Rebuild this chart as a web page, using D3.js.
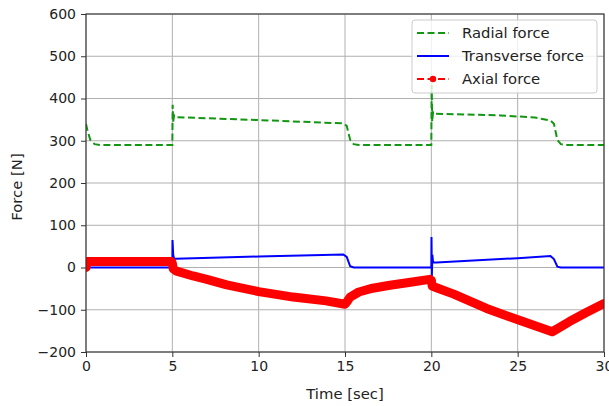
<!DOCTYPE html>
<html>
<head>
<meta charset="utf-8">
<script src="https://cdn.jsdelivr.net/npm/d3@7"></script>
<style>
  html, body { margin: 0; padding: 0; background: #fff; }
  svg { display: block; font-family: "DejaVu Sans", sans-serif; }
</style>
</head>
<body>
<svg id="chart" width="609" height="406"></svg>
<script>
// ---- data ----
const xTicks = [0, 5, 10, 15, 20, 25, 30];
const yTicks = [-200, -100, 0, 100, 200, 300, 400, 500, 600];

const radialT = [0, 0.1, 0.25, 0.5, 0.8, 4.97, 5.0, 5.02, 5.05, 5.1, 5.2, 10, 14.9, 15.1, 15.3, 15.5, 15.8, 19.97, 20.0, 20.02, 20.05, 20.1, 20.2, 24, 26.0, 26.9, 27.1, 27.3, 27.5, 27.8, 30];
const radialV = [340, 322, 302, 292, 290, 290, 290, 385, 345, 360, 356, 349, 341, 335, 302, 292, 290, 290, 290, 432, 345, 368, 364, 360, 355, 348, 340, 302, 292, 290, 290];

const transT = [0, 4.98, 5.0, 5.01, 5.05, 5.1, 5.2, 10, 14.9, 15.1, 15.3, 15.5, 19.98, 20.0, 20.01, 20.03, 20.06, 20.1, 20.3, 25, 26.9, 27.1, 27.3, 27.5, 30];
const transV = [0, 0, 0, 65, 30, 20, 21, 26, 31, 25, 3, 0, 0, 0, 72, -20, 30, 12, 12, 22, 27, 20, 2, 0, 0];

const axialT = [0, 0.05, 4.95, 5.0, 5.05, 5.2, 6.2, 7, 8.15, 10, 12, 13.9, 15, 15.1, 15.3, 15.8, 16.6, 17.6, 18.6, 19.9, 20.0, 20.05, 20.3, 21.3, 23.2, 25.1, 27.0, 27.3, 28.0, 29.0, 30];
const axialV = [0, 14, 14, 10, -3, -8, -20, -28, -41, -57, -70, -79, -87, -82, -70, -58, -49, -42, -36, -28, -30, -44, -48, -63, -97, -125, -152, -145, -128, -106, -85];

const seriesNames = ["Radial force", "Transverse force", "Axial force"];

// ---- layout ----
const svg = d3.select("#chart");
const L = 86, R = 604, T = 14, B = 352;
const x = d3.scaleLinear().domain([0, 30]).range([L, R]);
const y = d3.scaleLinear().domain([-200, 600]).range([B, T]);
const textColor = "#222";
const fsTick = "14px";
const fs = "14.8px";

// grid
const grid = svg.append("g");
grid.selectAll("line.v").data(xTicks).join("line")
  .attr("x1", d => x(d)).attr("x2", d => x(d)).attr("y1", T).attr("y2", B)
  .attr("stroke", "#b0b0b0").attr("stroke-width", 1);
grid.selectAll("line.h").data(yTicks).join("line")
  .attr("y1", d => y(d)).attr("y2", d => y(d)).attr("x1", L).attr("x2", R)
  .attr("stroke", "#b0b0b0").attr("stroke-width", 1);

// clip
svg.append("defs").append("clipPath").attr("id", "clip")
  .append("rect").attr("x", L).attr("y", T).attr("width", R - L).attr("height", B - T);

const plot = svg.append("g").attr("clip-path", "url(#clip)");
const line = d3.line().x(d => x(d[0])).y(d => y(d[1]));
const zip = (a, b) => a.map((t, i) => [t, b[i]]);

plot.append("path").datum(zip(radialT, radialV)).attr("d", line)
  .attr("fill", "none").attr("stroke", "#139613").attr("stroke-width", 2)
  .attr("stroke-dasharray", "7,3.5");

plot.append("path").datum(zip(transT, transV)).attr("d", line)
  .attr("fill", "none").attr("stroke", "#0000ff").attr("stroke-width", 2);

// axial: dense markers form a thick band
plot.append("path").datum(zip(axialT, axialV)).attr("d", line)
  .attr("fill", "none").attr("stroke", "#ff0000").attr("stroke-width", 9)
  .attr("stroke-linejoin", "round").attr("stroke-linecap", "round");

// axes
const xAxis = svg.append("g").attr("transform", `translate(0,${B})`)
  .call(d3.axisBottom(x).tickValues(xTicks).tickSize(5).tickPadding(4).tickFormat(d3.format("d")));
const yAxis = svg.append("g").attr("transform", `translate(${L},0)`)
  .call(d3.axisLeft(y).tickValues(yTicks).tickSize(5).tickPadding(5).tickFormat(d3.format("d")));
[xAxis, yAxis].forEach(g => {
  g.selectAll("text").attr("font-size", fsTick).attr("fill", textColor).attr("font-family", "DejaVu Sans");
  g.selectAll(".tick line").attr("stroke", "#333").attr("stroke-width", 1);
  g.select(".domain").remove();
});
// spines
svg.append("rect").attr("x", L).attr("y", T).attr("width", R - L).attr("height", B - T)
  .attr("fill", "none").attr("stroke", "#333").attr("stroke-width", 1.1);

// axis labels
svg.append("text").attr("x", (L + R) / 2).attr("y", 399).attr("text-anchor", "middle")
  .attr("font-size", fs).attr("fill", textColor).text("Time [sec]");
svg.append("text").attr("transform", `translate(22,${(T + B) / 2 + 4}) rotate(-90)`)
  .attr("text-anchor", "middle").attr("font-size", fs).attr("fill", textColor).text("Force [N]");

// legend
const lg = svg.append("g");
lg.append("rect").attr("x", 412).attr("y", 20).attr("width", 185).attr("height", 73).attr("rx", 3)
  .attr("fill", "#fff").attr("fill-opacity", 0.8).attr("stroke", "#cccccc").attr("stroke-width", 1);
const rows = [33, 56, 79];
lg.append("line").attr("x1", 417).attr("x2", 449).attr("y1", rows[0]).attr("y2", rows[0])
  .attr("stroke", "#139613").attr("stroke-width", 2).attr("stroke-dasharray", "7,3.5");
lg.append("line").attr("x1", 417).attr("x2", 449).attr("y1", rows[1]).attr("y2", rows[1])
  .attr("stroke", "#0000ff").attr("stroke-width", 2);
lg.append("line").attr("x1", 417).attr("x2", 449).attr("y1", rows[2]).attr("y2", rows[2])
  .attr("stroke", "#ff0000").attr("stroke-width", 2).attr("stroke-dasharray", "7,3.5");
lg.append("circle").attr("cx", 433).attr("cy", rows[2]).attr("r", 3.2).attr("fill", "#ff0000");
lg.selectAll("text.lab").data(seriesNames).join("text")
  .attr("x", 462).attr("y", (d, i) => rows[i]).attr("dy", "0.35em")
  .attr("font-size", fs).attr("fill", textColor).text(d => d);
</script>
</body>
</html>
